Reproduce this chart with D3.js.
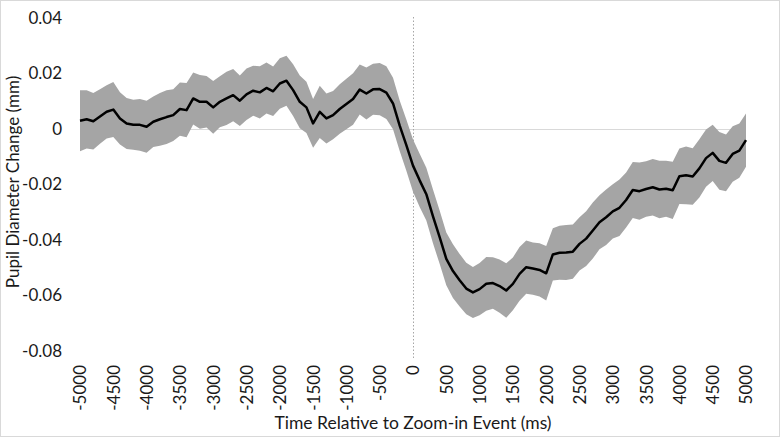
<!DOCTYPE html>
<html>
<head>
<meta charset="utf-8">
<script src="https://cdn.jsdelivr.net/npm/d3@7"></script>
<style>
  html, body { margin: 0; padding: 0; background: #ffffff; }
  svg { display: block; }
  text { font-family: Lato, "Open Sans", sans-serif; fill: #1a1a1a; }
</style>
</head>
<body>
<svg id="chart" width="781" height="438"></svg>
<script>
// ---- data (time in ms, values in mm) ----
const timeStart = -5000;
const timeStep = 100;
const meanChange = [
  0.0030, 0.0035, 0.0028, 0.0045, 0.0062, 0.0070, 0.0038, 0.0020, 0.0015, 0.0015,
  0.0008, 0.0026, 0.0035, 0.0043, 0.0050, 0.0072, 0.0068, 0.0110, 0.0098, 0.0098,
  0.0078, 0.0098, 0.0110, 0.0122, 0.0102, 0.0125, 0.0138, 0.0132, 0.0148, 0.0136,
  0.0164, 0.0174, 0.0140, 0.0098, 0.0078, 0.0020, 0.0062, 0.0038, 0.0050, 0.0072,
  0.0090, 0.0108, 0.0142, 0.0128, 0.0143, 0.0144, 0.0131, 0.0092, 0.0012, -0.0058,
  -0.0132, -0.0185, -0.0235, -0.0315, -0.0390, -0.0468, -0.0512, -0.0545, -0.0575, -0.0589,
  -0.0577, -0.0558, -0.0555, -0.0566, -0.0582, -0.0558, -0.0522, -0.0498, -0.0503, -0.0508,
  -0.0520, -0.0452, -0.0446, -0.0445, -0.0442, -0.0414, -0.0395, -0.0366, -0.0336, -0.0318,
  -0.0297, -0.0284, -0.0256, -0.0220, -0.0224, -0.0216, -0.0210, -0.0218, -0.0215, -0.0221,
  -0.0170, -0.0167, -0.0171, -0.0142, -0.0105, -0.0086, -0.0115, -0.0122, -0.0090, -0.0078,
  -0.0040
];
const halfWidth = [
  0.0110, 0.0105, 0.0102, 0.0098, 0.0096, 0.0099, 0.0094, 0.0092, 0.0090, 0.0093,
  0.0094, 0.0091, 0.0095, 0.0097, 0.0093, 0.0096, 0.0098, 0.0094, 0.0097, 0.0093,
  0.0095, 0.0092, 0.0096, 0.0094, 0.0091, 0.0093, 0.0090, 0.0094, 0.0092, 0.0089,
  0.0091, 0.0090, 0.0093, 0.0095, 0.0092, 0.0088, 0.0094, 0.0090, 0.0087, 0.0089,
  0.0091, 0.0093, 0.0090, 0.0094, 0.0092, 0.0094, 0.0095, 0.0093, 0.0091, 0.0092,
  0.0094, 0.0096, 0.0095, 0.0097, 0.0096, 0.0095, 0.0097, 0.0095, 0.0093, 0.0092,
  0.0094, 0.0097, 0.0093, 0.0096, 0.0098, 0.0095, 0.0097, 0.0096, 0.0094, 0.0096,
  0.0098, 0.0094, 0.0097, 0.0099, 0.0098, 0.0096, 0.0099, 0.0101, 0.0097, 0.0100,
  0.0098, 0.0102, 0.0099, 0.0101, 0.0103, 0.0100, 0.0102, 0.0104, 0.0101, 0.0103,
  0.0100, 0.0104, 0.0102, 0.0105, 0.0103, 0.0101, 0.0104, 0.0102, 0.0100, 0.0098,
  0.0096
];
const xTicks = [-5000, -4500, -4000, -3500, -3000, -2500, -2000, -1500, -1000, -500,
                0, 500, 1000, 1500, 2000, 2500, 3000, 3500, 4000, 4500, 5000];
const yTicks = [0.04, 0.02, 0, -0.02, -0.04, -0.06, -0.08];
const xTitle = "Time Relative to Zoom-in Event (ms)";
const yTitle = "Pupil Diameter Change (mm)";

// ---- build rows ----
const rows = meanChange.map((m, i) => ({
  t: timeStart + i * timeStep,
  m: m,
  lo: m - halfWidth[i],
  hi: m + halfWidth[i]
}));

const svg = d3.select("#chart");
const x = d3.scaleLinear().domain([-5000, 5000]).range([80, 746]);
const y = d3.scaleLinear().domain([-0.08, 0.04]).range([351, 18]);

// outer border
svg.append("rect")
  .attr("x", 0.5).attr("y", 0.5).attr("width", 779).attr("height", 436)
  .attr("fill", "none").attr("stroke", "#d9d9d9").attr("stroke-width", 1);

// zero gridline
svg.append("line")
  .attr("x1", x(-5000)).attr("x2", x(5000))
  .attr("y1", Math.round(y(0)) + 0.5).attr("y2", Math.round(y(0)) + 0.5)
  .attr("stroke", "#d9d9d9").attr("stroke-width", 1);

// event marker (dotted vertical at 0)
svg.append("line")
  .attr("x1", Math.round(x(0)) + 0.5).attr("x2", Math.round(x(0)) + 0.5)
  .attr("y1", 17).attr("y2", 360)
  .attr("stroke", "#a6a6a6").attr("stroke-width", 1)
  .attr("stroke-dasharray", "1.5,2");

// confidence band
svg.append("path")
  .datum(rows)
  .attr("fill", "#a5a5a5")
  .attr("d", d3.area().x(d => x(d.t)).y0(d => y(d.lo)).y1(d => y(d.hi)));

// mean line
svg.append("path")
  .datum(rows)
  .attr("fill", "none")
  .attr("stroke", "#000000")
  .attr("stroke-width", 2.5)
  .attr("stroke-linejoin", "round")
  .attr("d", d3.line().x(d => x(d.t)).y(d => y(d.m)));

// y axis
const yAxis = svg.append("g")
  .attr("transform", "translate(80,0)")
  .call(d3.axisLeft(y).tickValues(yTicks).tickSize(0).tickPadding(18)
    .tickFormat(d => d === 0 ? "0" : d.toFixed(2)));
yAxis.select(".domain").remove();
yAxis.selectAll("text")
  .style("font-family", "Lato, 'Open Sans', sans-serif")
  .style("font-size", "17px")
  .attr("fill", "#1a1a1a");

// x axis
const xAxis = svg.append("g")
  .attr("transform", "translate(0,351)")
  .call(d3.axisBottom(x).tickValues(xTicks).tickSize(0).tickFormat(d => String(d)));
xAxis.select(".domain").remove();
xAxis.selectAll("text")
  .style("font-family", "Lato, 'Open Sans', sans-serif")
  .style("font-size", "17px")
  .attr("fill", "#1a1a1a")
  .attr("text-anchor", "end")
  .attr("dy", "0.35em")
  .attr("transform", "translate(0,14) rotate(-90)")
  .attr("x", 0).attr("y", 0);

// titles
svg.append("text")
  .attr("x", 413).attr("y", 429)
  .attr("text-anchor", "middle")
  .style("font-size", "17.5px")
  .text(xTitle);

svg.append("text")
  .attr("transform", "translate(19,182) rotate(-90)")
  .attr("text-anchor", "middle")
  .style("font-size", "17px")
  .text(yTitle);
</script>
</body>
</html>
